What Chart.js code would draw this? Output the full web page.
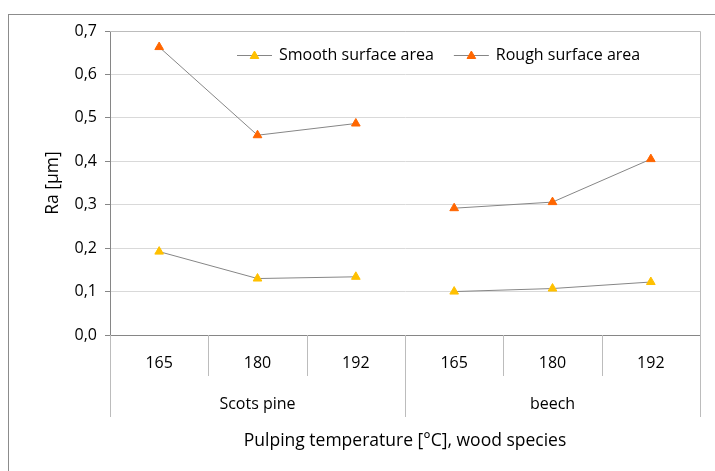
<!DOCTYPE html>
<html>
<head>
<meta charset="utf-8">
<script src="https://cdn.jsdelivr.net/npm/chart.js@4.4.0/dist/chart.umd.min.js"></script>
<style>
html, body { margin:0; padding:0; overflow:hidden; background:#fff; }
#frame { position:absolute; left:8px; top:14px; width:800px; height:600px; border:1px solid #8c8c8c; }
#wrap { position:absolute; left:0; top:0; width:715px; height:471px; }
</style>
</head>
<body>
<div id="frame"></div>
<div id="wrap"><canvas id="myChart" width="715" height="471"></canvas></div>
<script>
// categories: temperature per wood species
var temps = ['165', '180', '192', '165', '180', '192'];
var species = ['Scots pine', 'beech'];
var groupSize = 3;

// Ra values [µm]
var smooth = [0.192, 0.130, 0.134, 0.100, 0.107, 0.122];
var rough = [0.663, 0.460, 0.487, 0.292, 0.306, 0.405];

var FONT = 'Open Sans';
var lineGray = '#868686';
var softGray = '#bcbcbc';

// no line between last pine point and first beech point
function gapSegment(c) {
  return (c.p0DataIndex + 1) % groupSize === 0 ? 'rgba(0,0,0,0)' : undefined;
}

// group labels, separators and plot border
var groupAxis = {
  id: 'groupAxis',
  afterDraw: function(chart) {
    var ctx = chart.ctx;
    var x = chart.scales.x, y = chart.scales.y;
    var bottom = y.bottom, top = y.top;
    var half = (x.getPixelForValue(1) - x.getPixelForValue(0)) / 2;
    ctx.save();
    ctx.strokeStyle = softGray;
    ctx.lineWidth = 1;
    // top + right border of plot area
    ctx.beginPath();
    ctx.moveTo(x.left, top + 0.5);
    ctx.lineTo(x.right + 0.5, top + 0.5);
    ctx.lineTo(x.right + 0.5, bottom);
    ctx.stroke();
    for (var i = 0; i <= temps.length; i++) {
      var px = Math.round(x.getPixelForValue(i) - half) + 0.5;
      var len = (i % groupSize === 0) ? 82 : 41;
      ctx.beginPath();
      ctx.moveTo(px, bottom);
      ctx.lineTo(px, bottom + len);
      ctx.stroke();
    }
    ctx.fillStyle = '#000';
    ctx.font = '16px "' + FONT + '"';
    ctx.textAlign = 'center';
    ctx.textBaseline = 'middle';
    species.forEach(function(name, g) {
      var a = x.getPixelForValue(g * groupSize) - half;
      var b = x.getPixelForValue(g * groupSize + groupSize - 1) + half;
      ctx.fillText(name, (a + b) / 2, bottom + 69);
    });
    ctx.restore();
  }
};

// legend drawn inside the plot area
var innerLegend = {
  id: 'innerLegend',
  afterDraw: function(chart) {
    var ctx = chart.ctx;
    var cx = 237, cy = 55;
    ctx.save();
    ctx.font = '16px "' + FONT + '"';
    ctx.textBaseline = 'middle';
    ctx.textAlign = 'left';
    chart.data.datasets.forEach(function(ds) {
      ctx.strokeStyle = ds.borderColor;
      ctx.lineWidth = 1;
      ctx.beginPath();
      ctx.moveTo(cx, cy + 0.5);
      ctx.lineTo(cx + 35, cy + 0.5);
      ctx.stroke();
      ctx.fillStyle = ds.pointBackgroundColor;
      ctx.strokeStyle = ds.pointBorderColor;
      Chart.helpers.drawPoint(ctx, { pointStyle: 'triangle', radius: ds.pointRadius, borderWidth: 1, rotation: 0 }, cx + 17.5, cy + 1);
      ctx.fillStyle = '#000';
      ctx.fillText(ds.label, cx + 42, cy);
      cx += 42 + ctx.measureText(ds.label).width + 20;
    });
    ctx.restore();
  }
};

var ctx = document.getElementById('myChart').getContext('2d');
var chart = new Chart(ctx, {
  type: 'line',
  data: {
    labels: temps,
    datasets: [{
      label: 'Smooth surface area',
      data: smooth,
      borderColor: lineGray,
      borderWidth: 1,
      pointStyle: 'triangle',
      pointRadius: 5,
      pointBackgroundColor: '#ffc000',
      pointBorderColor: '#ffc000',
      pointBorderWidth: 1,
      segment: { borderColor: gapSegment }
    }, {
      label: 'Rough surface area',
      data: rough,
      borderColor: lineGray,
      borderWidth: 1,
      pointStyle: 'triangle',
      pointRadius: 5,
      pointBackgroundColor: '#ff6600',
      pointBorderColor: '#ff6600',
      pointBorderWidth: 1,
      segment: { borderColor: gapSegment }
    }]
  },
  options: {
    responsive: false,
    devicePixelRatio: 1,
    animation: false,
    layout: { padding: { top: 31, right: 15, left: 0, bottom: 0 } },
    plugins: { legend: { display: false }, tooltip: { enabled: false } },
    scales: {
      x: {
        type: 'category',
        offset: true,
        grid: { display: false, drawTicks: false, tickLength: 0 },
        border: { color: lineGray },
        ticks: { color: '#000', padding: 19, font: { family: FONT, size: 16 }, maxRotation: 0 },
        title: { display: true, text: 'Pulping temperature [°C], wood species', color: '#000',
                 font: { family: FONT, size: 17.5 }, padding: { top: 0, bottom: 19.5 } },
        afterFit: function(s) { s.height = 136; }
      },
      y: {
        min: 0,
        max: 0.7,
        grid: { color: '#d9d9d9', tickColor: lineGray, tickLength: 5 },
        border: { color: lineGray },
        ticks: { stepSize: 0.1, color: '#000', padding: 8, font: { family: FONT, size: 16 },
                 callback: function(v) { return v.toFixed(1).replace('.', ','); } },
        title: { display: true, text: 'Ra [µm]', color: '#000',
                 font: { family: FONT, size: 17.5 }, padding: { top: 42.5, bottom: 0 } },
        afterFit: function(s) { s.width = 110; }
      }
    }
  },
  plugins: [groupAxis, innerLegend]
});
</script>
</body>
</html>
